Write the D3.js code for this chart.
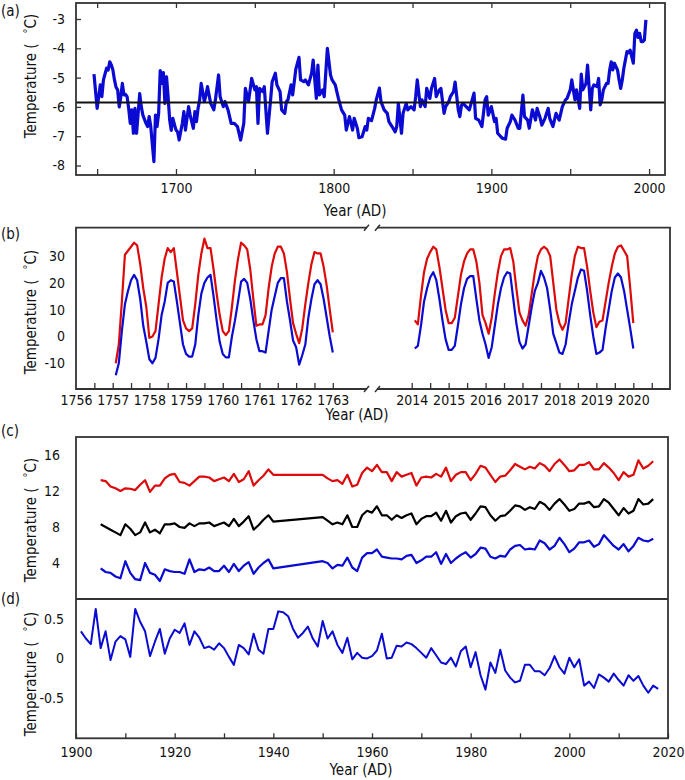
<!DOCTYPE html>
<html><head><meta charset="utf-8">
<script src="https://cdn.jsdelivr.net/npm/d3@7"></script>
<style>
html,body{margin:0;padding:0;background:#fff;}
svg{display:block;}
</style></head>
<body>
<svg id="chart" width="685" height="780"></svg>
<script>
// ---------------- DATA ----------------
// Panel (a): reconstructed temperature (years and values)
const yearsA = [
 1648,1650,1651,1652,1653,1654,1656,1657,1658,1659,1660,1661,1662,1663,1664,1665,1666,1667,1668,1669,
 1670,1671,1672,1673,1674,1675,1676,1677,1678,1679,1681,1682,1683,1684,1686,1687,1688,1689,1690,1691,
 1692,1693,1694,1695,1696,1697,1698,1700,1701,1702,1704,1705,1706,1707,1708,1709,1711,1712,1713,1714,
 1715,1716,1718,1719,1720,1722,1724,1725,1727,1728,1730,1731,1733,1735,1737,1739,1741,1743,1744,1746,
 1748,1750,1751,1752,1753,1755,1756,1758,1760,1761,1763,1764,1766,1767,1769,1770,1771,1773,1774,1776,
 1778,1779,1781,1782,1784,1786,1787,1789,1790,1791,1793,1794,1796,1798,1799,1801,1803,1805,1807,1808,
 1810,1812,1813,1815,1816,1818,1820,1821,1822,1824,1826,1827,1829,1830,1832,1834,1835,1837,1839,1840,
 1841,1843,1844,1846,1847,1849,1851,1852,1853,1855,1856,1858,1859,1861,1862,1864,1865,1867,1868,1870,
 1871,1873,1874,1876,1877,1879,1880,1881,1882,1884,1886,1889,1890,1892,1894,1896,1897,1898,1900,1902,
 1903,1904,1906,1907,1909,1910,1912,1913,1915,1917,1918,1920,1921,1923,1924,1926,1928,1929,1931,1932,
 1934,1936,1937,1939,1941,1943,1945,1947,1948,1950,1951,1953,1954,1956,1957,1958,1960,1961,1963,1964,
 1965,1967,1968,1969,1970,1971,1973,1974,1975,1976,1977,1978,1980,1981,1982,1983,1984,1986,1987,1988,
 1990,1991,1992,1993,1994,1995,1996,1997,1998];
const tempA = [
 -4.88,-6.05,-5.65,-5.25,-5.65,-5.08,-4.68,-4.74,-4.46,-4.57,-4.74,-5.08,-5.33,-5.42,-6.0,-5.65,-5.2,-5.59,-5.57,-5.65,
 -6.05,-6.56,-6.1,-6.9,-6.05,-6.9,-6.22,-5.55,-5.99,-6.28,-6.56,-6.67,-6.33,-6.67,-7.87,-6.28,-6.67,-6.22,-4.76,-5.2,
 -4.83,-5.88,-4.97,-5.65,-6.45,-6.8,-6.39,-6.79,-6.85,-7.13,-6.56,-6.16,-6.79,-6.39,-5.99,-6.28,-6.73,-6.16,-6.5,-6.05,
 -5.76,-5.2,-5.82,-5.59,-5.31,-5.88,-6.1,-5.76,-4.91,-5.65,-5.99,-5.82,-6.1,-6.56,-6.56,-6.67,-7.13,-6.56,-5.37,-5.82,
 -5.03,-5.42,-5.31,-6.56,-5.37,-5.48,-5.31,-6.9,-5.76,-5.14,-4.85,-5.25,-5.48,-6.1,-6.22,-5.82,-5.76,-5.25,-5.59,-4.71,
 -4.31,-5.08,-5.14,-5.08,-5.25,-4.85,-4.4,-5.71,-4.57,-5.59,-5.42,-5.65,-4.0,-4.91,-5.08,-5.25,-5.71,-6.1,-6.28,-6.79,
 -6.33,-6.79,-6.39,-6.73,-7.05,-7.02,-6.67,-6.79,-6.39,-6.47,-6.05,-5.76,-5.36,-5.82,-6.1,-6.22,-6.5,-6.67,-6.85,-6.67,
 -5.88,-6.9,-6.22,-5.88,-6.1,-5.99,-6.1,-5.65,-5.08,-5.99,-5.76,-5.99,-5.37,-5.71,-5.37,-5.03,-5.65,-5.42,-5.37,-6.22,
 -5.99,-5.82,-5.65,-5.48,-5.15,-6.1,-6.33,-5.95,-5.88,-5.99,-6.1,-5.53,-6.39,-6.45,-6.67,-5.76,-5.65,-6.28,-5.99,-6.5,
 -6.39,-6.9,-7.02,-7.07,-7.1,-6.73,-6.5,-6.28,-6.45,-6.73,-6.73,-5.6,-6.33,-6.45,-6.73,-6.1,-6.45,-6.05,-6.39,-6.62,
 -6.39,-6.05,-6.39,-6.67,-6.22,-6.45,-5.99,-5.76,-5.71,-5.42,-5.08,-5.76,-5.42,-6.05,-4.88,-5.42,-5.2,-4.57,-6.1,-5.37,
 -5.25,-5.31,-5.03,-5.93,-5.76,-5.42,-5.2,-5.2,-4.74,-4.46,-4.74,-4.51,-4.74,-5.08,-5.37,-5.08,-4.68,-4.11,-4.15,-4.06,
 -4.51,-3.49,-3.38,-3.63,-3.49,-3.77,-3.77,-3.72,-3.03];
const meanA = -5.85;
const ticksA_x = [1650,1700,1750,1800,1850,1900,1950,2000];
const ticksA_y = [-3,-4,-5,-6,-7,-8];

// Panel (b): monthly maximum (red) and minimum (blue), Feb 1757 - Jan 1763 and Feb 2014 - Jan 2020
const startB1 = 1757 + 1/12, startB2 = 2014 + 1/12;
const maxB1 = [
 -10,-3,13,30.5,32,33.5,35,34,27,18,11,-0.5,
 0,2,12,22,29,33,31.5,33,24,15,6,3,
 2,3,12,23,31,36.5,33,33,25,16,8,2,
 0.5,2,11,21,29,35,34,32.5,25,14,4,4.5,
 4.5,8,18,26,31,33.5,33.5,31,24,14,5,1,
 -2.5,3,12,20,27,31.5,31,31,26,19,10,1.5];
const minB1 = [
 -14.5,-10,2,12,17,21,23,21,14,4,-2,-8.5,
 -10,-8,-1,8,13,20,21,20.5,13,5,-3,-6.5,
 -7.5,-7.5,-3,8,16,20,22,23,15,6,-2,-6.5,
 -7.8,-7.8,0,6,13,20.5,21.5,20,14,6,-1,-5.5,
 -5.5,-6,2,10,15,20,21.8,21.8,13,6,-1.5,-4,
 -10.5,-7,-3,7,14,19.5,21,19.5,14,7,0,-6];
const maxB2 = [
 6,4.5,15,24,29,31.5,33.5,32.5,26,18,10,5,
 5,7,15,23,28,31,32.5,32.5,28,20,8,5,
 1,7,16,24,30,32.5,32.5,33,28,18,9,6,
 4,8,16,24,30,32.5,33.5,32.5,30,20,10,5,
 2.5,5,14,23,30,33.5,33,33,26,17,9,3.5,
 5.5,6,13,20,26,31,33.5,34,32,30,18,5];
const minB2 = [
 -4.5,-3.5,4,13,18,22,24,21,14,6,-1,-5,
 -5,-3.5,4,12,18,21.5,22.5,22.5,14,6,1,-3,
 -8,-4,4,12,18,22,24,23.5,14,5,-2,-4.5,
 -3,4,11,17,20,24.5,22,18,10,1,-2.5,-6,
 -6.5,-3,5,12,17,22,25,24.5,17,8,0,-6.5,
 -6,-5,3,10,17,22,23.5,22,17,10,3,-4.5];
const ticksB_y = [30,20,10,0,-10];
const ticksB1_x = [1756,1757,1758,1759,1760,1761,1762,1763];
const ticksB2_x = [2014,2015,2016,2017,2018,2019,2020];

// Panel (c): annual max (red), mean (black), min (blue); gap 1941-1949
const yearsC = d3.range(1905, 1941).concat(d3.range(1950, 2018));
const maxC = [
 13.2,13.1,12.5,12.3,12.0,12.3,12.25,12.1,12.7,13.2,
 11.9,12.6,12.6,13.4,13.8,13.9,13.0,12.9,12.6,13.1,
 13.6,13.6,13.5,13.1,13.3,13.5,13.1,13.9,13.0,13.3,
 14.2,12.6,13.2,13.7,14.4,13.8,
 13.8,13.4,13.1,13.2,12.8,13.8,12.5,12.7,14.0,14.6,
 14.2,14.9,14.1,14.1,13.1,14.1,13.6,13.8,14.0,12.6,
 13.5,13.6,13.5,13.9,13.6,14.6,13.1,13.8,14.1,14.1,
 13.2,13.9,14.8,14.6,13.8,13.0,13.6,13.7,14.3,15.0,
 14.7,14.4,14.7,14.5,15.1,14.8,14.2,15.0,15.5,14.9,
 14.2,14.3,14.9,14.9,15.2,14.4,14.4,15.1,14.6,14.0,
 13.2,14.1,13.6,13.8,15.4,14.5,14.8,15.3];
const meanC = [
 8.3,8.0,7.7,7.4,7.1,8.3,7.8,7.1,7.4,8.5,
 7.4,7.7,7.3,8.3,8.3,8.4,8.0,7.9,8.4,8.1,
 8.4,8.4,8.5,8.1,8.3,8.5,8.1,8.9,8.1,8.6,
 9.2,7.7,8.2,8.8,9.3,8.6,
 9.1,8.7,8.3,8.5,8.3,9.3,8.0,8.0,9.3,9.8,
 9.6,10.3,9.3,9.3,8.8,9.3,9.0,9.3,9.5,8.3,
 8.9,9.2,9.2,9.6,8.7,9.8,8.5,9.2,9.5,9.6,
 8.8,9.5,10.3,10.2,9.3,8.7,9.2,9.3,9.8,10.4,
 10.3,9.9,10.2,10.0,10.8,10.5,9.9,10.6,11.1,10.5,
 9.8,10.0,10.6,10.6,10.8,10.2,10.3,11.1,10.7,10.0,
 9.3,10.1,9.5,9.8,11.1,10.5,10.6,11.1];
const minC = [
 3.4,3.0,2.9,2.5,2.3,4.2,2.9,2.2,2.1,4.0,
 2.9,2.7,2.0,3.3,3.1,3.0,3.0,2.8,4.4,3.0,
 3.3,3.2,3.5,3.1,3.1,3.7,3.0,3.9,3.1,3.7,
 4.1,2.8,3.5,4.0,4.4,3.4,
 4.2,4.0,3.4,3.8,3.7,4.6,3.5,3.1,4.6,5.1,
 5.1,5.5,4.7,4.6,4.5,4.5,4.4,4.8,4.9,4.0,
 4.3,4.7,4.7,5.2,3.9,5.0,4.0,4.5,4.9,5.2,
 4.6,5.0,5.7,5.6,4.7,4.5,4.8,4.7,5.5,5.9,
 6.0,5.5,5.6,5.5,6.5,6.2,5.5,5.9,6.8,6.1,
 5.2,5.6,6.3,6.3,6.5,5.8,6.1,7.1,6.5,5.9,
 5.5,6.1,5.3,5.9,6.8,6.5,6.4,6.7];
const ticksC_y = [4,8,12,16];

// Panel (d): annual series 1901-2018
const yearsD = d3.range(1901, 2019);
const valD = [
 0.34,0.25,0.18,0.62,0.13,0.34,-0.02,0.21,0.28,0.24,
 0.02,0.62,0.46,0.34,0.03,0.21,0.37,0.06,0.25,0.36,
 0.32,0.44,0.17,0.34,0.26,0.13,0.15,0.11,0.19,0.13,
 0.02,-0.08,0.17,0.13,0.05,0.31,0.11,0.06,0.37,0.37,
 0.59,0.58,0.53,0.37,0.26,0.32,0.40,0.25,0.15,0.47,
 0.25,0.34,0.17,0.07,0.26,-0.01,0.07,0.01,0.0,0.03,
 0.10,0.31,0.0,0.01,0.16,0.15,0.20,0.18,0.13,0.07,
 0.01,0.13,0.04,-0.05,-0.07,0.01,-0.10,0.09,0.15,-0.11,
 0.08,-0.21,-0.39,-0.05,-0.18,0.11,-0.15,-0.24,-0.30,-0.28,
 -0.08,-0.08,-0.16,-0.16,-0.21,-0.12,0.03,-0.11,-0.19,0.01,
 -0.11,-0.01,-0.34,-0.29,-0.37,-0.20,-0.24,-0.29,-0.19,-0.27,
 -0.34,-0.21,-0.28,-0.22,-0.34,-0.43,-0.34,-0.38];
const ticksD_y = [0.5,0,-0.5];
const ticksCD_x = d3.range(1900, 2021, 10);

// ---------------- DRAW ----------------
const FONT = "'Liberation Sans Narrow','Arial Narrow','DejaVu Sans Condensed',Lato,sans-serif";
const BLUE = "#0a0ad2", RED = "#dc0a0a", BLACK = "#000", FRAME = "#333";
const svg = d3.select("#chart").style("font-family", FONT);
const fmt = d => String(d);

function styleAxis(g, fs) {
  g.select(".domain").remove();
  g.selectAll(".tick line").attr("stroke", FRAME).attr("stroke-width", 1.3);
  g.selectAll(".tick text").attr("fill", "#111").style("font-size", fs + "px").style("font-family", FONT);
}
function yTitle(cx, cy) {
  const t = svg.append("text").attr("transform", `translate(${cx},${cy}) rotate(-90)`)
    .attr("text-anchor", "middle").style("font-size", "15px").attr("fill", "#111");
  t.append("tspan").text("Temperature (");
  t.append("tspan").attr("dx", 10).attr("dy", -5).style("font-size", "11px").text("°");
  t.append("tspan").attr("dy", 5).text("C)");
}
function xTitle(cx, by) {
  svg.append("text").attr("x", cx).attr("y", by).attr("text-anchor", "middle")
    .style("font-size", "15px").attr("fill", "#111").text("Year (AD)");
}
function panelLabel(txt, x, by) {
  svg.append("text").attr("x", x).attr("y", by).style("font-size", "15px").attr("fill", "#111").text(txt);
}

// ===== Panel (a) =====
const xA = d3.scaleLinear().domain([1636.6, 2010.1]).range([76, 665]);
const yA = d3.scaleLinear().domain([-8.324, -2.454]).range([175, 3]);
svg.append("g").attr("transform", "translate(0,175)")
  .call(d3.axisBottom(xA).tickValues(ticksA_x).tickSize(-6).tickPadding(8)
    .tickFormat(d => d % 100 === 0 ? fmt(d) : ""))
  .call(g => styleAxis(g, 14));
svg.append("g").attr("transform", "translate(0,3)")
  .call(d3.axisTop(xA).tickValues(ticksA_x).tickSize(-5).tickFormat(""))
  .call(g => styleAxis(g, 14));
svg.append("g").attr("transform", "translate(76,0)")
  .call(d3.axisLeft(yA).tickValues(ticksA_y).tickSize(-5).tickPadding(11).tickFormat(fmt))
  .call(g => styleAxis(g, 14));
svg.append("path").datum(yearsA.map((y, i) => [y, tempA[i]]))
  .attr("fill", "none").attr("stroke", BLUE).attr("stroke-width", 3.2).attr("stroke-linejoin", "round")
  .attr("d", d3.line().x(d => xA(d[0])).y(d => yA(d[1])));
svg.append("line").attr("x1", 76).attr("x2", 665).attr("y1", yA(meanA)).attr("y2", yA(meanA))
  .attr("stroke", "#111").attr("stroke-width", 1.8);
svg.append("rect").attr("x", 76).attr("y", 3).attr("width", 665 - 76).attr("height", 172)
  .attr("fill", "none").attr("stroke", FRAME).attr("stroke-width", 1.8);
panelLabel("(a)", 1, 16);
yTitle(36, 76);
xTitle(355, 216);

// ===== Panel (b) =====
const yB = d3.scaleLinear().domain([-19.6, 40.6]).range([389, 227.7]);
const xB1 = d3.scaleLinear().domain([1756, 1763.85]).range([76, 364]);
const xB2 = d3.scaleLinear().domain([2014, 2020]).range([411.7, 633.3]);
const minorB1 = d3.range(1756.5, 1763.01, 0.5);
const minorB2 = d3.range(2014, 2020.51, 0.5);
svg.append("g").attr("transform", "translate(0,389)")
  .call(d3.axisBottom(xB1).tickValues(minorB1).tickSize(-6).tickFormat(""))
  .call(g => styleAxis(g, 14));
svg.append("g").attr("transform", "translate(0,389)")
  .call(d3.axisBottom(xB1).tickValues(ticksB1_x).tickSize(0).tickPadding(6).tickFormat(fmt))
  .call(g => styleAxis(g, 14));
svg.append("g").attr("transform", "translate(0,389)")
  .call(d3.axisBottom(xB2).tickValues(minorB2).tickSize(-6).tickFormat(""))
  .call(g => styleAxis(g, 14));
svg.append("g").attr("transform", "translate(0,389)")
  .call(d3.axisBottom(xB2).tickValues(ticksB2_x).tickSize(0).tickPadding(6).tickFormat(fmt))
  .call(g => styleAxis(g, 14));
svg.append("g").attr("transform", "translate(76,0)")
  .call(d3.axisLeft(yB).tickValues(ticksB_y).tickSize(0).tickPadding(11).tickFormat(fmt))
  .call(g => styleAxis(g, 14));
const lineB1 = d3.line().x((d, i) => xB1(startB1 + i / 12)).y(d => yB(d));
const lineB2 = d3.line().x((d, i) => xB2(startB2 + i / 12)).y(d => yB(d));
[[maxB1, lineB1, RED], [minB1, lineB1, BLUE], [maxB2, lineB2, RED], [minB2, lineB2, BLUE]].forEach(([data, ln, c]) => {
  svg.append("path").datum(data).attr("fill", "none").attr("stroke", c)
    .attr("stroke-width", 2.2).attr("stroke-linejoin", "round").attr("d", ln);
});
// broken frame
const fb = svg.append("g").attr("fill", "none").attr("stroke", FRAME).attr("stroke-width", 1.8);
fb.append("path").attr("d", "M367,227.7 H76 V389 H367");
fb.append("path").attr("d", "M377,227.7 H670 V389 H377");
[227.7, 389].forEach(yy => {
  fb.append("line").attr("x1", 364).attr("x2", 369).attr("y1", yy + 3).attr("y2", yy - 3).attr("stroke-width", 1.5);
  fb.append("line").attr("x1", 375).attr("x2", 380).attr("y1", yy + 3).attr("y2", yy - 3).attr("stroke-width", 1.5);
});
panelLabel("(b)", 1, 239);
yTitle(36, 312);
xTitle(357, 420);

// ===== Panels (c) and (d) =====
const xC = d3.scaleLinear().domain([1900, 2020]).range([76, 668]);
const yC = d3.scaleLinear().domain([0, 18]).range([599, 437]);
const yD = d3.scaleLinear().domain([-1.0, 0.745]).range([738.3, 599]);
svg.append("g").attr("transform", "translate(0,738.3)")
  .call(d3.axisBottom(xC).tickValues(ticksCD_x).tickSize(-5).tickPadding(8.5)
    .tickFormat(d => d % 20 === 0 ? fmt(d) : ""))
  .call(g => styleAxis(g, 14));
svg.append("g").attr("transform", "translate(76,0)")
  .call(d3.axisLeft(yC).tickValues(ticksC_y).tickSize(0).tickPadding(16).tickFormat(fmt))
  .call(g => styleAxis(g, 14));
svg.append("g").attr("transform", "translate(76,0)")
  .call(d3.axisLeft(yD).tickValues(ticksD_y).tickSize(0).tickPadding(12).tickFormat(fmt))
  .call(g => styleAxis(g, 14));
[[maxC, RED], [meanC, BLACK], [minC, BLUE]].forEach(([vals, c]) => {
  svg.append("path").datum(yearsC.map((y, i) => [y, vals[i]]))
    .attr("fill", "none").attr("stroke", c).attr("stroke-width", 2.2).attr("stroke-linejoin", "round")
    .attr("d", d3.line().x(d => xC(d[0])).y(d => yC(d[1])));
});
svg.append("path").datum(yearsD.map((y, i) => [y, valD[i]]))
  .attr("fill", "none").attr("stroke", BLUE).attr("stroke-width", 2).attr("stroke-linejoin", "round")
  .attr("d", d3.line().x(d => xC(d[0])).y(d => yD(d[1])));
svg.append("rect").attr("x", 76).attr("y", 437).attr("width", 668 - 76).attr("height", 738.3 - 437)
  .attr("fill", "none").attr("stroke", FRAME).attr("stroke-width", 1.8);
svg.append("line").attr("x1", 76).attr("x2", 668).attr("y1", 599).attr("y2", 599)
  .attr("stroke", FRAME).attr("stroke-width", 1.8);
panelLabel("(c)", 1, 436);
panelLabel("(d)", 1, 604);
yTitle(36, 520);
yTitle(36, 674);
xTitle(361, 775);
</script>
</body></html>
